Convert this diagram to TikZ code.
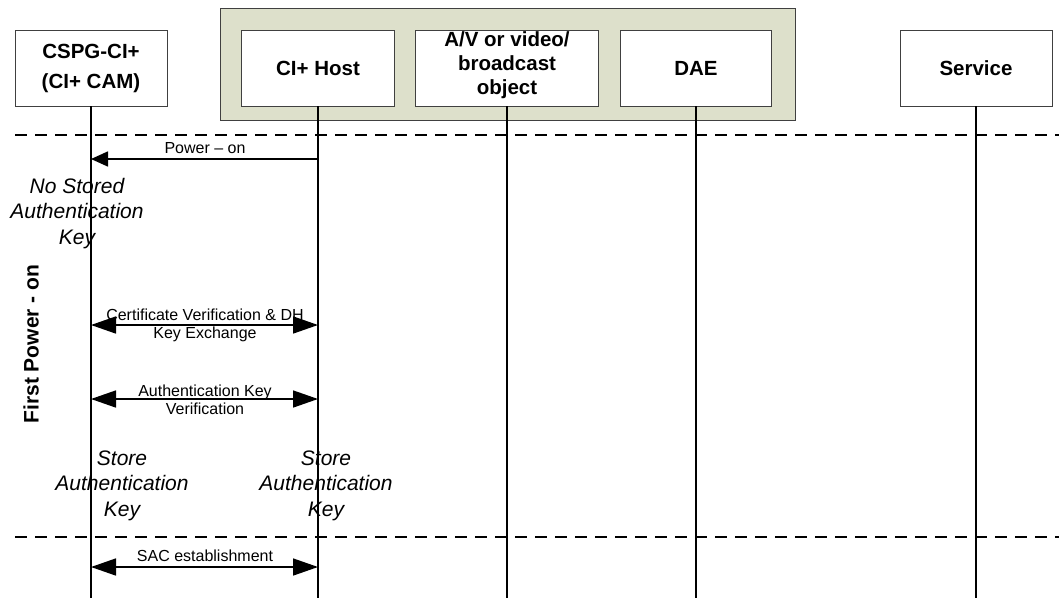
\documentclass[tikz,border=0pt]{standalone}
\usepackage{fontspec}
\setmainfont{Liberation Sans}
\usetikzlibrary{arrows.meta}
\definecolor{grp}{HTML}{DDE0CB}
\definecolor{edge}{HTML}{404040}
\tikzset{
  hdr/.style={draw=edge, line width=0.9pt, fill=white, minimum height=76pt, inner sep=0pt,
    align=center, font=\fontsize{20.5}{24}\selectfont\bfseries},
  hdrtext/.style={inner sep=0pt, align=center, font=\fontsize{20.5}{24}\selectfont\bfseries},
  life/.style={line width=2pt},
  sep/.style={line width=1.7pt, dash pattern=on 12pt off 8pt},
  bmsg/.style={line width=1.6pt, {Triangle[length=25pt,width=17pt]}-{Triangle[length=25pt,width=17pt]}},
  small/.style={font=\fontsize{16}{18.5}\selectfont, align=center, inner sep=0pt},
  note/.style={font=\fontsize{21}{25.5}\selectfont\itshape, align=center, inner sep=0pt},
}
\begin{document}
\begin{tikzpicture}[x=1pt,y=-1pt]
\useasboundingbox (0,0) rectangle (1059,598);
\node[draw=edge, line width=0.9pt, fill=grp, minimum width=575pt, minimum height=112pt, inner sep=0pt] (grp) at (507.5,64) {};
\node[hdr, minimum width=152pt, font=\fontsize{20.5}{30}\selectfont\bfseries] (cam) at (91,68) {CSPG-CI+\\(CI+ CAM)};
\node[hdr, minimum width=153pt] (host) at (318,68) {CI+ Host};
\node[hdr, minimum width=183pt] (av) at (507,68) {};
\node[hdrtext] (avt) at (507,65.5) {A/V or video/\\broadcast\\object};
\node[hdr, minimum width=151pt] (dae) at (696,68) {DAE};
\node[hdr, minimum width=152pt] (svc) at (976,68) {Service};
% lifelines
\foreach \n in {cam,host,av,dae,svc} {
  \coordinate (\n-end) at (\n.south |- 0,598);
  \draw[life] (\n.south) -- (\n-end);
}
% separators
\coordinate (s1a) at (15,135); \coordinate (s1b) at (1059,135);
\coordinate (s2a) at (15,537); \coordinate (s2b) at (1059,537);
\draw[sep] (s1a) -- (s1b);
\draw[sep] (s2a) -- (s2b);
% messages
\coordinate (p1) at (host |- 0,159); \coordinate (p0) at (cam |- 0,159);
\draw[line width=1.6pt, -{Triangle[length=17pt,width=15pt]}] (p1) -- (p0);
\node[small] (lp) at (205,148) {Power -- on};
\coordinate (c1) at (cam |- 0,325); \coordinate (h1) at (host |- 0,325);
\draw[bmsg] (c1) -- (h1);
\node[small] (l1) at (205,325.5) {Certificate Verification \& DH\\Key Exchange};
\coordinate (c2) at (cam |- 0,399); \coordinate (h2) at (host |- 0,399);
\draw[bmsg] (c2) -- (h2);
\node[small] (l2) at (205,400) {Authentication Key\\Verification};
\coordinate (c3) at (cam |- 0,567); \coordinate (h3) at (host |- 0,567);
\draw[bmsg] (c3) -- (h3);
\node[small] (l3) at (205,556) {SAC establishment};
% notes
\node[note] (n1) at (77,213.5) {No Stored\\Authentication\\Key};
\node[note] (n2) at (122,485.5) {Store\\Authentication\\Key};
\node[note] (n3) at (326,485.5) {Store\\Authentication\\Key};
\node[rotate=90, inner sep=0pt, font=\fontsize{21}{24}\selectfont\bfseries] (phase) at (31,344) {First Power - on};
\end{tikzpicture}
\end{document}
